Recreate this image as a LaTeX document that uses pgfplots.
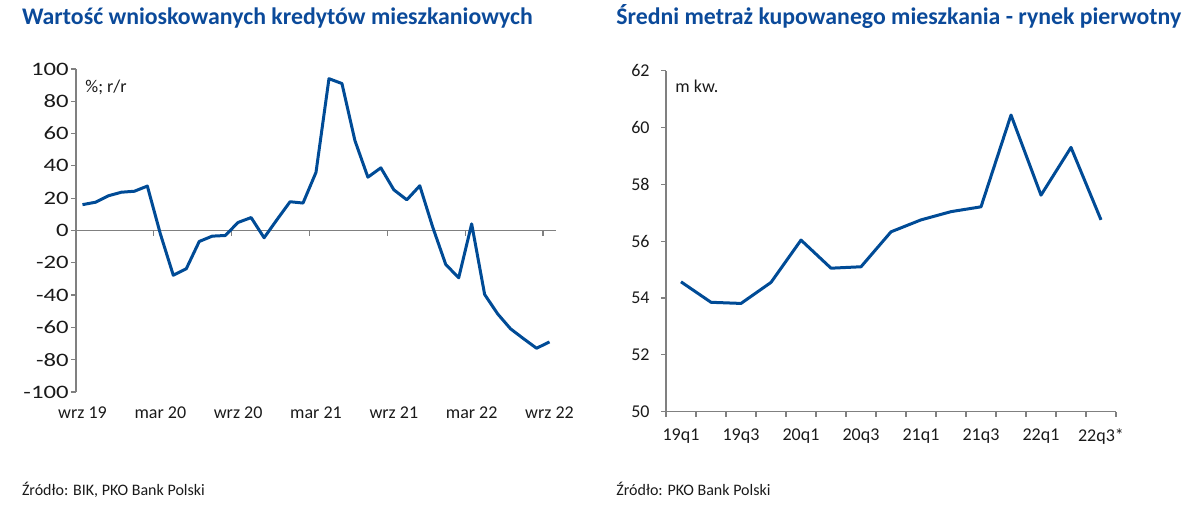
\documentclass[border=0pt]{standalone}
\usepackage{fontspec}
\setmainfont{Carlito}
\newfontfamily\widefont{Carlito}[FakeStretch=1.3]
\usepackage{pgfplots}
\pgfplotsset{compat=1.18}
\definecolor{lineblue}{HTML}{004B96}
\definecolor{titleblue}{HTML}{0B4A9A}
\definecolor{axisgray}{HTML}{808080}
\definecolor{txt}{HTML}{1A1A1A}
\begin{document}
\begin{tikzpicture}
\path[use as bounding box] (0,0) rectangle (600pt,254pt);
\node[anchor=base west, inner sep=0pt, text=titleblue, font=\fontsize{11.9}{13}\selectfont\bfseries] at (10.8pt,241.5pt) {Wartość wnioskowanych kredytów mieszkaniowych};
\node[anchor=base west, inner sep=0pt, text=titleblue, font=\fontsize{11.9}{13}\selectfont\bfseries] at (308pt,241.5pt) {Średni metraż kupowanego mieszkania - rynek pierwotny};
\node[anchor=base west, inner sep=0pt, text=txt, font=\fontsize{8}{9}\selectfont] at (10.8pt,6pt) {Źródło: BIK, PKO Bank Polski};
\node[anchor=base west, inner sep=0pt, text=txt, font=\fontsize{8}{9}\selectfont] at (308pt,6pt) {Źródło: PKO Bank Polski};
\node[anchor=base west, inner sep=0pt, text=txt, font=\fontsize{9}{10}\selectfont] at (42.5pt,207.5pt) {\%; r/r};
\node[anchor=base west, inner sep=0pt, text=txt, font=\fontsize{9}{10}\selectfont] at (337.5pt,207.5pt) {m kw.};

\begin{axis}[
 at={(38pt,58pt)}, anchor=south west, scale only axis, width=240pt, height=161.5pt,
 xmin=-0.5, xmax=36.5, ymin=-100, ymax=100,
 axis lines*=left,
 x axis line style={draw=none},
 y axis line style={axisgray, line width=0.6pt},
 xtick={0,6,12,18,24,30,36},
 xticklabels={wrz 19, mar 20, wrz 20, mar 21, wrz 21, mar 22, wrz 22},
 x tick style={draw=none},
 ytick={-100,-80,-60,-40,-20,0,20,40,60,80,100},
 yticklabels={-100,-80,-60,-40,-20,0,20,40,60,80,100},
 y tick style={axisgray, line width=0.6pt},
 tick align=outside, major tick length=2.5pt,
 tick label style={font=\fontsize{9}{10}\selectfont, text=txt},
 yticklabel style={anchor=east, inner sep=0pt, xshift=-1pt, font=\widefont\fontsize{9.5}{10}\selectfont},
 xticklabel style={anchor=north, inner sep=0pt, yshift=-4.5pt},
 clip=false,
]
\draw[axisgray, line width=0.6pt] (axis cs:-0.5,0) -- (axis cs:36.5,0);
\pgfplotsinvokeforeach{5.5,11.5,17.5,23.5,29.5,35.5}{\draw[axisgray, line width=0.6pt] (axis cs:#1,0) -- (axis cs:#1,-3.1);}
\addplot[lineblue, line width=1.5pt, line join=round] coordinates {
(0,16) (1,17.5) (2,21.5) (3,23.7) (4,24.3) (5,27.5) (6,-2) (7,-27.7) (8,-23.7) (9,-6.8)
(10,-3.5) (11,-3.1) (12,5) (13,8) (14,-4.5) (15,6.8) (16,17.8) (17,17) (18,36) (19,94)
(20,91) (21,55.7) (22,33) (23,38.8) (24,25.2) (25,19) (26,27.7) (27,2) (28,-21) (29,-29.3)
(30,4.1) (31,-39.6) (32,-51.6) (33,-60.9) (34,-67) (35,-72.9) (36,-69)
};
\end{axis}

\begin{axis}[
 at={(333pt,48.15pt)}, anchor=south west, scale only axis, width=225pt, height=170.5pt,
 xmin=-0.5, xmax=14.5, ymin=50, ymax=62,
 axis lines*=left,
 axis line style={axisgray, line width=0.6pt},
 xtick={0,2,4,6,8,10,12,14},
 xticklabels={19q1,19q3,20q1,20q3,21q1,21q3,22q1,22q3*},
 minor xtick={-0.5,0.5,...,14.5},
 major x tick style={draw=none},
 minor x tick style={axisgray, line width=0.6pt},
 ytick={50,52,54,56,58,60,62},
 yticklabels={50,52,54,56,58,60,62},
 y tick style={axisgray, line width=0.6pt},
 tick align=outside, major tick length=2.5pt, minor tick length=2.5pt,
 tick label style={font=\fontsize{9}{10}\selectfont, text=txt},
 yticklabel style={anchor=east, inner sep=0pt, xshift=-5.5pt},
 xticklabel style={anchor=north, inner sep=0pt, yshift=-5.8pt},
 clip=false,
]
\addplot[lineblue, line width=1.5pt, line join=round] coordinates {
(0,54.57) (1,53.85) (2,53.81) (3,54.55) (4,56.04) (5,55.05) (6,55.1) (7,56.33)
(8,56.75) (9,57.04) (10,57.21) (11,60.44) (12,57.62) (13,59.3) (14,56.75)
};
\end{axis}
\end{tikzpicture}
\end{document}
